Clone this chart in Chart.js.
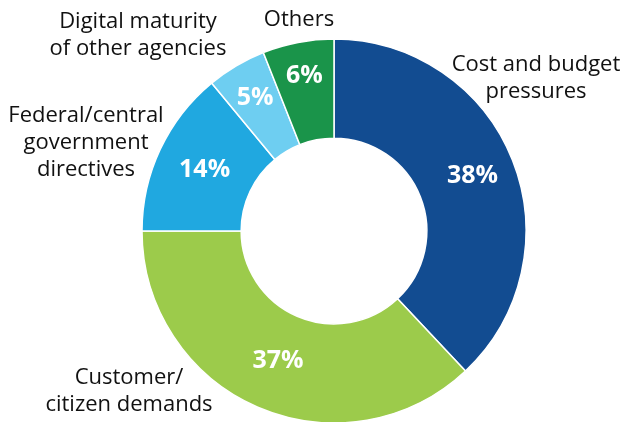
<!DOCTYPE html>
<html>
<head>
<meta charset="utf-8">
<script src="https://cdn.jsdelivr.net/npm/chart.js@4/dist/chart.umd.min.js"></script>
<style>
html,body{margin:0;padding:0;background:#fff;}
canvas{display:block;}
</style>
</head>
<body>
<canvas id="c" width="623" height="422"></canvas>
<script>
const categories = [
  ["Cost and budget", "pressures"],
  ["Customer/", "citizen demands"],
  ["Federal/central", "government", "directives"],
  ["Digital maturity", "of other agencies"],
  ["Others"]
];
const values = [38, 37, 14, 5, 6];
const colors = ["#124C91", "#9CCB4B", "#20A8E0", "#6ECEF1", "#1A944A"];

// label block centres, offsets from doughnut centre (text only)
const outerLabelOffsets = [
  [202, -153],
  [-205, 160],
  [-248, -88],
  [-196, -196],
  [-35, -211]
];
const innerLabelRadius = [149, 141, 143, 155, 158];

const labelPlugin = {
  id: 'labels',
  afterDatasetsDraw(chart) {
    const ctx = chart.ctx;
    const meta = chart.getDatasetMeta(0);
    const total = values.reduce((a, b) => a + b, 0);
    ctx.save();
    meta.data.forEach((arc, i) => {
      const p = arc.getProps(['x', 'y', 'startAngle', 'endAngle'], true);
      const mid = (p.startAngle + p.endAngle) / 2;
      const r = innerLabelRadius[i];
      ctx.fillStyle = '#fff';
      ctx.font = 'bold 25px "Open Sans"';
      ctx.textAlign = 'center';
      ctx.textBaseline = 'middle';
      ctx.fillText(Math.round(values[i] / total * 100) + '%', p.x + Math.cos(mid) * r, p.y + Math.sin(mid) * r);
      // outer category label
      const lines = categories[i];
      const lh = 27;
      const cx = p.x + outerLabelOffsets[i][0];
      const cy = p.y + outerLabelOffsets[i][1];
      ctx.fillStyle = '#111';
      ctx.font = '22px "Open Sans"';
      lines.forEach((t, k) => {
        ctx.fillText(t, cx, cy + (k - (lines.length - 1) / 2) * lh);
      });
    });
    ctx.restore();
  }
};

new Chart(document.getElementById('c'), {
  type: 'doughnut',
  data: {
    labels: categories.map(l => l.join(' ')),
    datasets: [{
      data: values,
      backgroundColor: colors,
      borderColor: '#ffffff',
      borderWidth: 1.5
    }]
  },
  options: {
    responsive: false,
    animation: false,
    radius: 192,
    cutout: 92,
    layout: { padding: { left: 45, right: 0, top: 40, bottom: 0 } },
    plugins: { legend: { display: false }, tooltip: { enabled: false } }
  },
  plugins: [labelPlugin]
});
</script>
</body>
</html>
